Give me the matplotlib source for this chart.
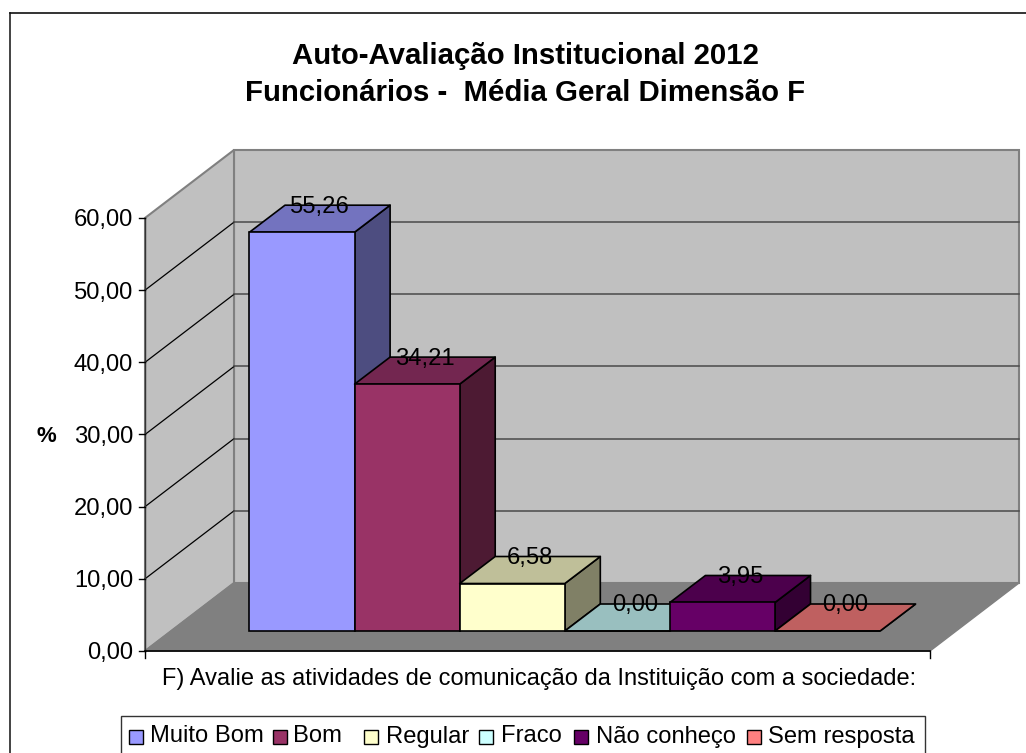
import matplotlib
matplotlib.use("Agg")
import matplotlib.pyplot as plt
from matplotlib.patches import Polygon, Rectangle

categories = ["Muito Bom", "Bom", "Regular", "Fraco", "Não conheço", "Sem resposta"]
values = [55.26, 34.21, 6.58, 0.00, 3.95, 0.00]
y_ticks = [0, 10, 20, 30, 40, 50, 60]

front_colors = ["#9999FF", "#993366", "#FFFFCC", "#CCFFFF", "#660066", "#FF8080"]
top_colors = ["#7373BF", "#732650", "#BFBF99", "#99BFBF", "#4C004C", "#BF6060"]
side_colors = ["#4D4D80", "#4D1A33", "#808066", "#668080", "#330033", "#804040"]

W, H = 1026, 753
BAR_W = 105.1   # px per category
UNIT = 7.217    # px per value unit
X0, Y0 = 249.5, 631   # front-left corner of first bar
fmt = lambda v: f"{v:.2f}".replace(".", ",")

plt.rcParams["font.family"] = ["Liberation Sans", "DejaVu Sans"]
fig = plt.figure(figsize=(W / 100, H / 100), dpi=100)
ax = fig.add_axes([0, 0, 1, 1])
ax.set_xlim(-X0 / BAR_W, (W - X0) / BAR_W)
ax.set_ylim((Y0 - H) / UNIT, Y0 / UNIT)
ax.axis("off")


def px(x):
    return (x - X0) / BAR_W


def py(y):
    return (Y0 - y) / UNIT


# offsets in data units
bar_dx, bar_dy = 35.5 / BAR_W, 27 / UNIT
fl_x0, fl_x1 = px(145), px(930)
fl_y = -20 / UNIT
wall_dx, wall_dy = 89 / BAR_W, 68 / UNIT
top = y_ticks[-1]
GREY = "#C0C0C0"
WALL_EDGE = "#808080"

# chart border, runs off the right and bottom of the picture
ax.plot([px(10), px(10)], [py(760), py(12.5)], color="#222222", lw=1.2, zorder=0)
ax.plot([px(10), px(1030)], [py(12.5), py(12.5)], color="#111111", lw=1.2, zorder=0)

# walls and floor
ax.add_patch(Polygon([(fl_x0 + wall_dx, fl_y + wall_dy), (fl_x1 + wall_dx, fl_y + wall_dy),
                      (fl_x1 + wall_dx, fl_y + wall_dy + top), (fl_x0 + wall_dx, fl_y + wall_dy + top)],
                     fc=GREY, ec=WALL_EDGE, lw=1.5, zorder=1))
ax.add_patch(Polygon([(fl_x0, fl_y), (fl_x0 + wall_dx, fl_y + wall_dy),
                      (fl_x0 + wall_dx, fl_y + wall_dy + top), (fl_x0, fl_y + top)],
                     fc=GREY, ec=WALL_EDGE, lw=1.5, zorder=1))
ax.add_patch(Polygon([(fl_x0, fl_y), (fl_x1, fl_y), (fl_x1 + wall_dx, fl_y + wall_dy),
                      (fl_x0 + wall_dx, fl_y + wall_dy)], fc="#808080", ec=WALL_EDGE, lw=1, zorder=1))

# gridlines
for t in y_ticks[1:-1]:
    yy = fl_y + t
    ax.plot([fl_x0, fl_x0 + wall_dx], [yy, yy + wall_dy], color="black", lw=0.9, zorder=2)
    ax.plot([fl_x0 + wall_dx, fl_x1 + wall_dx], [yy + wall_dy, yy + wall_dy], color="#4a4a4a", lw=1.1, zorder=2)

# axes lines and ticks
ax.plot([fl_x0, fl_x0], [fl_y, fl_y + top], color="#333333", lw=1, zorder=2)
ax.plot([fl_x0, fl_x1], [fl_y, fl_y], color="black", lw=1.2, zorder=2)
tick_len = 6 / BAR_W
for t in y_ticks:
    ax.plot([fl_x0 - tick_len, fl_x0], [fl_y + t, fl_y + t], color="black", lw=1, zorder=2)
    ax.text(px(133), fl_y + t - 2.5 / UNIT, fmt(t), ha="right", va="center", fontsize=17.1, zorder=5)
for xx in (fl_x0, fl_x1):
    ax.plot([xx, xx], [fl_y, fl_y - 7 / UNIT], color="black", lw=1, zorder=2)

# bars, left to right
for i, v in enumerate(values):
    ax.add_patch(Polygon([(i + 1, 0), (i + 1 + bar_dx, bar_dy), (i + 1 + bar_dx, v + bar_dy), (i + 1, v)],
                         fc=side_colors[i], ec="black", lw=1.2, zorder=3 + 0.01 * i, joinstyle="round"))
    ax.add_patch(Polygon([(i, v), (i + 1, v), (i + 1 + bar_dx, v + bar_dy), (i + bar_dx, v + bar_dy)],
                         fc=top_colors[i], ec="black", lw=1.2, zorder=3 + 0.01 * i, joinstyle="round"))
    ax.add_patch(Rectangle((i, 0), 1, v, fc=front_colors[i], ec="black", lw=1.2, zorder=3 + 0.01 * i))
for i, v in enumerate(values):
    ax.text(i + 0.5 + bar_dx * 0.5, v + bar_dy - 1.5 / UNIT, fmt(v), ha="center", va="center", fontsize=17.1, zorder=5)

# titles
ax.text(px(525), py(56), "Auto-Avaliação Institucional 2012", ha="center", va="center",
        fontsize=21.2, fontweight="bold")
ax.text(px(525), py(93), "Funcionários -  Média Geral Dimensão F", ha="center", va="center",
        fontsize=21.2, fontweight="bold")
ax.text(px(46), py(437), "%", ha="center", va="center", fontsize=16, fontweight="bold")
ax.text(px(539), py(679),
        "F) Avalie as atividades de comunicação da Instituição com a sociedade:",
        ha="center", va="center", fontsize=17.05)

# legend, bottom edge falls off the picture
ax.add_patch(Rectangle((px(121), py(760)), 804 / BAR_W, 44 / UNIT,
                       fc="white", ec="#333333", lw=1, zorder=4))
legend_sw = [129, 273, 364, 479, 574, 747]
legend_tx = [150, 293, 386, 501, 596, 768]
for name, c, sx, tx in zip(categories, front_colors, legend_sw, legend_tx):
    ax.add_patch(Rectangle((px(sx), py(744)), 14 / BAR_W, 14 / UNIT,
                           fc=c, ec="black", lw=1, zorder=5))
    ax.text(px(tx), py(736.5), name, ha="left", va="center", fontsize=17.1, zorder=5)

fig.savefig("out.png", dpi=100)
